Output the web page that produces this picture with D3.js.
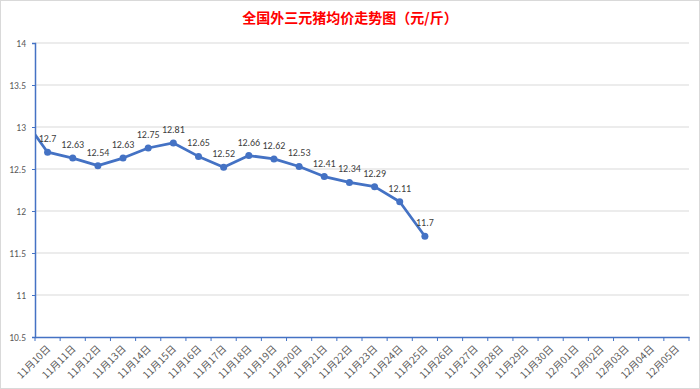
<!DOCTYPE html>
<html>
<head>
<meta charset="utf-8">
<script src="https://cdn.jsdelivr.net/npm/d3@7"></script>
<style>
  body { margin: 0; background: #fff; }
  text { font-family: "Noto Sans CJK SC", "DejaVu Sans", sans-serif; }
</style>
</head>
<body>
<div id="chart"></div>
<script>
const width = 700;
const height = 389;

// categories shown on the axis
const dates = ["11月10日","11月11日","11月12日","11月13日","11月14日","11月15日","11月16日","11月17日",
  "11月18日","11月19日","11月20日","11月21日","11月22日","11月23日","11月24日","11月25日",
  "11月26日","11月27日","11月28日","11月29日","11月30日","12月01日","12月02日","12月03日","12月04日","12月05日"];
// prices, 11/10 .. 11/25
const prices = [12.7,12.63,12.54,12.63,12.75,12.81,12.65,12.52,12.66,12.62,12.53,12.41,12.34,12.29,12.11,11.7];
// value of the day before 11/10, only its segment shows (clipped at the axis)
const prevPrice = 13.12;
const yTicks = [10.5, 11, 11.5, 12, 12.5, 13, 13.5, 14];

const margin = {left: 35, right: 11, top: 43, bottom: 52};

const svg = d3.select("#chart")
  .append("svg")
  .attr("width", width)
  .attr("height", height);

svg.append("rect")
  .attr("x", 0.5).attr("y", 0.5)
  .attr("width", width - 1).attr("height", height - 1)
  .attr("fill", "#fff")
  .attr("stroke", "#d9d9d9");

svg.append("text")
  .attr("x", width / 2)
  .attr("y", 23)
  .attr("text-anchor", "middle")
  .attr("fill", "#ff0000")
  .style("font-size", "14px")
  .style("font-weight", "bold")
  .text("全国外三元猪均价走势图（元/斤）");

const x = d3.scaleBand()
  .domain(dates)
  .range([margin.left, width - margin.right]);

const y = d3.scaleLinear()
  .domain([10.5, 14])
  .range([height - margin.bottom, margin.top]);

// gridlines
svg.append("g")
  .selectAll("line")
  .data(yTicks.slice(1))
  .enter()
  .append("line")
  .attr("x1", margin.left)
  .attr("x2", width - margin.right)
  .attr("y1", d => y(d))
  .attr("y2", d => y(d))
  .attr("stroke", "#d9d9d9")
  .attr("stroke-width", 1);

// y axis
const yAxis = svg.append("g")
  .attr("transform", `translate(${margin.left},0)`)
  .call(d3.axisLeft(y).tickValues(yTicks).tickFormat(d => d).tickSize(3).tickPadding(6));
yAxis.select(".domain").attr("stroke", "#4472c4").attr("stroke-width", 1.5);
yAxis.selectAll(".tick line").attr("stroke", "#4472c4");
yAxis.selectAll("text").attr("fill", "#595959").style("font-size", "9.5px")
  .style("font-family", "Calibri, 'Liberation Sans', 'DejaVu Sans', sans-serif");

// x axis
const xAxis = svg.append("g")
  .attr("transform", `translate(0,${y(10.5)})`)
  .call(d3.axisBottom(x).tickSize(0));
xAxis.select(".domain").attr("stroke", "#4472c4").attr("stroke-width", 1.5);
xAxis.selectAll(".tick text")
  .attr("fill", "#595959")
  .style("font-size", "10px")
  .attr("text-anchor", "end")
  .attr("x", 0)
  .attr("y", 0)
  .attr("dy", "0.35em")
  .attr("transform", "translate(1,10) rotate(-45)");
// tick marks between categories
xAxis.append("g")
  .selectAll("line")
  .data(dates.concat(["end"]))
  .enter()
  .append("line")
  .attr("x1", (d, i) => x.range()[0] + i * x.step())
  .attr("x2", (d, i) => x.range()[0] + i * x.step())
  .attr("y1", 0)
  .attr("y2", 4)
  .attr("stroke", "#4472c4");

// line
const cx = i => x(dates[0]) + x.bandwidth() / 2 + i * x.step();
const pts = [[cx(-1), prevPrice]].concat(prices.map((v, i) => [cx(i), v]));

svg.append("clipPath").attr("id", "plot")
  .append("rect")
  .attr("x", margin.left).attr("y", margin.top)
  .attr("width", width - margin.left - margin.right)
  .attr("height", y(10.5) - margin.top);

const line = d3.line().x(d => d[0]).y(d => y(d[1]));

svg.append("path")
  .datum(pts)
  .attr("clip-path", "url(#plot)")
  .attr("d", line)
  .attr("fill", "none")
  .attr("stroke", "#4472c4")
  .attr("stroke-width", 2.75)
  .attr("stroke-linejoin", "round");

svg.append("g")
  .selectAll("circle")
  .data(prices)
  .enter()
  .append("circle")
  .attr("cx", (d, i) => cx(i))
  .attr("cy", d => y(d))
  .attr("r", 3.5)
  .attr("fill", "#4472c4");

svg.append("g")
  .selectAll("text")
  .data(prices)
  .enter()
  .append("text")
  .attr("x", (d, i) => cx(i))
  .attr("y", d => y(d) - 10)
  .attr("text-anchor", "middle")
  .attr("fill", "#404040")
  .style("font-size", "10px")
  .style("font-family", "Calibri, 'Liberation Sans', 'DejaVu Sans', sans-serif")
  .text(d => d);
</script>
</body>
</html>
